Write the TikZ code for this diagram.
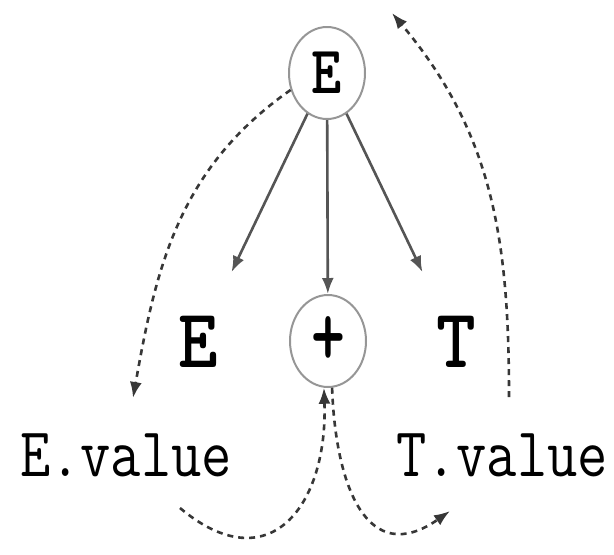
\documentclass[tikz,border=0pt]{standalone}
\usepackage{graphicx}
\usepackage{tikz}
\usetikzlibrary{shapes.geometric, arrows.meta, positioning, calc}
\definecolor{myring}{RGB}{150,150,150}
\definecolor{myedge}{RGB}{85,85,85}
\definecolor{mydash}{RGB}{55,55,55}
\tikzset{
  treenode/.style={ellipse, draw=myring, line width=1pt,
    minimum width=38pt, minimum height=46pt, inner sep=0pt,
    font=\fontsize{34}{38}\selectfont\ttfamily\bfseries},
  symlabel/.style={inner sep=0pt, font=\fontsize{42}{46}\selectfont\ttfamily\bfseries},
  valuelabel/.style={inner sep=0pt, font=\fontsize{35}{40}\selectfont\ttfamily},
  treearrow/.style={-{Latex[length=8pt,width=6pt]}, line width=1.3pt, color=myedge},
  flowarrow/.style={-{Latex[length=8pt,width=6pt]}, line width=1.3pt,
    color=mydash, dash pattern=on 3pt off 2.5pt}
}

\begin{document}
\begin{tikzpicture}[x=0.5pt, y=0.5pt]
  \useasboundingbox (0,0) rectangle (614,554);

  \node[treenode] (top) at (327,481) {\scalebox{0.85}[1]{E}};
  \node[treenode] (plus) at (328,213) {\scalebox{0.95}[1.35]{+}};
  \node[symlabel] (Esym) at (198,212) {\scalebox{0.9}[1]{E}};
  \node[symlabel] (Tsym) at (456,212) {\scalebox{0.9}[1]{T}};
  \node[valuelabel] (Eval) at (126,99) {\scalebox{0.84}[1]{E.value}};
  \node[valuelabel] (Tval) at (502,99) {\scalebox{0.84}[1]{T.value}};
  \coordinate (up) at (392,541);

  \draw[treearrow] (top) -- ($(top)!0.74!(Esym)$);
  \draw[treearrow] (top) -- (plus);
  \draw[treearrow] (top) -- ($(top)!0.74!(Tsym)$);

  % value flow
  \draw[flowarrow] (top.205) to[out=215, in=80] ([shift={(7,35)}]Eval.north);
  \draw[flowarrow] ([shift={(7,36)}]Tval.north) to[out=90, in=-50] (up);
  \draw[flowarrow] ([shift={(54,-31)}]Eval.south) to[out=-40, in=-88, looseness=1.6] (plus.265);
  \draw[flowarrow] (plus.275) to[out=-88, in=215, looseness=1.5] ([shift={(-52,-34)}]Tval.south);
\end{tikzpicture}
\end{document}
